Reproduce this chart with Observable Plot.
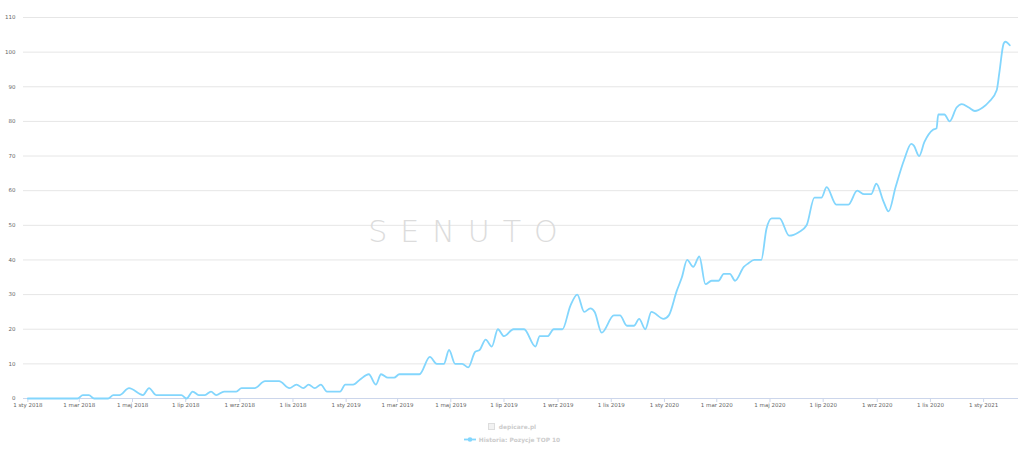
<!DOCTYPE html>
<html>
<head>
<meta charset="utf-8">
<script src="https://cdn.jsdelivr.net/npm/d3@7"></script>
<script src="https://cdn.jsdelivr.net/npm/@observablehq/plot@0.6"></script>
<style>
  html, body { margin: 0; padding: 0; background: #fff; }
  body { width: 1024px; height: 461px; position: relative; overflow: hidden; font-family: "DejaVu Sans", sans-serif; }
  #chart { position: absolute; left: 0; top: 0; }
  #watermark { position: absolute; left: 463px; top: 231px; transform: translate(-50%, -50%);
    font-family: "DejaVu Sans", sans-serif; font-weight: 200; font-size: 30px; letter-spacing: 13px;
    color: #dcdcdc; white-space: nowrap; padding-left: 13px; }
  .leg { position: absolute; left: 0; width: 1024px; text-align: center; font-size: 5.9px; font-weight: bold; color: #cccccc; white-space: nowrap; }
  .leg span { display: inline-block; vertical-align: middle; }
</style>
</head>
<body>
<div id="chart"></div>
<div id="watermark">SENUTO</div>
<div class="leg" id="leg1" style="top:423px"></div>
<div class="leg" id="leg2" style="top:436px"></div>
<script>
// ---- data ----
const dates = [
  "2018-01-01","2018-02-27","2018-03-05","2018-03-12","2018-03-18","2018-04-03","2018-04-09","2018-04-16","2018-04-27",
  "2018-05-13","2018-05-20","2018-05-28","2018-06-26","2018-07-02","2018-07-09","2018-07-16","2018-07-23","2018-07-30",
  "2018-08-05","2018-08-14","2018-08-28","2018-09-03","2018-09-18","2018-09-30","2018-10-16","2018-10-28","2018-11-05",
  "2018-11-13","2018-11-19","2018-11-26","2018-12-03","2018-12-10","2018-12-25","2018-12-31",
  "2019-01-09","2019-01-17","2019-01-27","2019-02-04","2019-02-10","2019-02-18","2019-02-25","2019-03-03","2019-03-26",
  "2019-04-07","2019-04-15","2019-04-23","2019-04-29","2019-05-06","2019-05-14","2019-05-21","2019-05-29","2019-06-03",
  "2019-06-10","2019-06-17","2019-06-24","2019-07-01","2019-07-12","2019-07-24","2019-08-06","2019-08-11","2019-08-20",
  "2019-08-27","2019-09-06","2019-09-15","2019-09-23","2019-10-01","2019-10-08","2019-10-13","2019-10-21","2019-11-04",
  "2019-11-11","2019-11-19","2019-11-27","2019-12-03","2019-12-10","2019-12-17","2019-12-31",
  "2020-01-06","2020-01-15","2020-01-21","2020-01-27","2020-02-03","2020-02-10","2020-02-17","2020-02-24","2020-03-03",
  "2020-03-09","2020-03-16","2020-03-22","2020-04-01","2020-04-06","2020-04-13","2020-04-21","2020-04-27","2020-05-03",
  "2020-05-12","2020-05-23","2020-06-03","2020-06-12","2020-06-21","2020-06-29","2020-07-05","2020-07-16","2020-07-30",
  "2020-08-09","2020-08-17","2020-08-25","2020-08-31","2020-09-08","2020-09-14","2020-09-22","2020-10-02","2020-10-10",
  "2020-10-13","2020-10-19","2020-10-25","2020-11-04","2020-11-08","2020-11-10","2020-11-17","2020-11-23","2020-12-01",
  "2020-12-07","2020-12-15","2020-12-22","2020-12-31",
  "2021-01-07","2021-01-16","2021-01-19","2021-01-24","2021-01-26","2021-01-31"
];
const values = [
  0,0,1,1,0,0,1,1,3,
  1,3,1,1,0,2,1,1,2,
  1,2,2,3,3,5,5,3,4,
  3,4,3,4,2,2,4,
  4,5.5,7,4,7,6,6,7,7,
  12,10,10,14,10,10,9,13.5,14,
  17,15,20,18,20,20,15,18,18,
  20,20,26.7,30,25,26,25,19,24,
  24,21,21,23,20,25,23,
  24,31,35,40,38,41,33,34,34,
  36,36,34,38,39,40,40,49,52,
  52,47,48,50,58,58,61,56,56,
  60,59,59,62,57,54,61,69,73.5,
  73,70,74,77.6,78,82,82,80,84,
  85,84,83,84,
  85.6,89,94,102.5,103,102
];
const yTicks = [0, 10, 20, 30, 40, 50, 60, 70, 80, 90, 100, 110];
const xTickDates = [
  "2018-01-01","2018-03-01","2018-05-01","2018-07-01","2018-09-01","2018-11-01",
  "2019-01-01","2019-03-01","2019-05-01","2019-07-01","2019-09-01","2019-11-01",
  "2020-01-01","2020-03-01","2020-05-01","2020-07-01","2020-09-01","2020-11-01",
  "2021-01-01"
];
const xTickLabels = [
  "1 sty 2018","1 mar 2018","1 maj 2018","1 lip 2018","1 wrz 2018","1 lis 2018",
  "1 sty 2019","1 mar 2019","1 maj 2019","1 lip 2019","1 wrz 2019","1 lis 2019",
  "1 sty 2020","1 mar 2020","1 maj 2020","1 lip 2020","1 wrz 2020","1 lis 2020",
  "1 sty 2021"
];
const seriesName = "Historia: Pozycje TOP 10";
const siteName = "depicare.pl";

// ---- build ----
const data = dates.map((d, i) => ({date: new Date(d), value: values[i]}));
const tickDates = xTickDates.map(d => new Date(d));
const labelOf = new Map(tickDates.map((d, i) => [+d, xTickLabels[i]]));
const lineColor = "#83d6fd";

const chart = Plot.plot({
  width: 1024,
  height: 415,
  marginLeft: 23,
  marginRight: 6,
  marginTop: 17,
  marginBottom: 17,
  style: {fontFamily: "DejaVu Sans", fontSize: "5.5px", color: "#666666", background: "transparent"},
  x: {type: "utc", domain: [new Date("2017-12-27"), new Date("2021-02-10")]},
  y: {domain: [0, 110]},
  marks: [
    Plot.ruleY(yTicks.filter(d => d > 0), {stroke: "#e6e6e6", strokeWidth: 1}),
    Plot.ruleY([0], {stroke: "#ccd6eb", strokeWidth: 1}),
    Plot.axisY({ticks: yTicks, tickSize: 0, tickPadding: 8, label: null, fill: "#666666"}),
    Plot.axisX({ticks: tickDates, tickSize: 4, tickPadding: 1, stroke: "#ccd6eb", label: null,
      tickFormat: d => labelOf.get(+d) ?? "", fill: "#666666"}),
    Plot.lineY(data, {x: "date", y: "value", stroke: lineColor, strokeWidth: 1.8, curve: "monotone-x"})
  ]
});
document.getElementById("chart").appendChild(chart);

// legend
document.getElementById("leg1").innerHTML =
  `<span style="width:7px;height:7px;margin-right:4px;border:1px solid #ddd;box-sizing:border-box;background:#f2f2f2"></span><span>${siteName}</span>`;
document.getElementById("leg2").innerHTML =
  `<span style="margin-right:3px"><svg width="12" height="7"><line x1="0" y1="3.5" x2="12" y2="3.5" stroke="${lineColor}" stroke-width="1.8"/><circle cx="6" cy="3.5" r="2.3" fill="${lineColor}"/></svg></span><span>${seriesName}</span>`;
</script>
</body>
</html>
